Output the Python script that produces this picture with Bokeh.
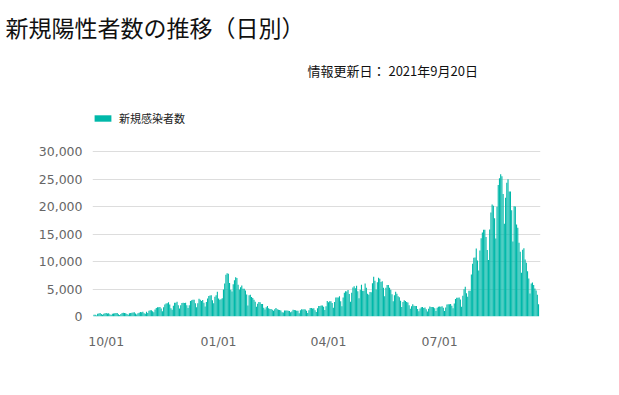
import pandas as pd
from bokeh.plotting import figure
from bokeh.models import (Range1d, FixedTicker, NumeralTickFormatter, DatetimeTickFormatter,
                          Label, Legend, LegendItem, ColumnDataSource)
from bokeh.embed import file_html
from bokeh.resources import INLINE

# Daily new cases, 2020-09-21 .. 2021-09-20
sep20 = [326, 298, 195, 479, 563, 647, 470, 297, 518, 606]
oct20 = [639, 563, 591, 406, 291, 495, 531, 611, 644, 626, 419, 278, 453, 622, 665, 622, 603, 445,
         335, 611, 618, 683, 706, 784, 550, 353, 577, 702, 805, 751, 854]
nov20 = [613, 485, 860, 644, 1046, 1138, 1154, 943, 781, 1279, 1543, 1660, 1704, 1735, 1439, 950,
         1694, 2201, 2386, 2427, 2596, 2168, 1520, 1228, 1940, 2501, 2508, 2684, 2068, 1436]
dec20 = [2030, 2433, 2510, 2444, 2508, 2029, 1537, 2023, 2810, 2973, 3041, 3031, 2387, 1680, 2431,
         3211, 3057, 2830, 2995, 2496, 1815, 2651, 3269, 3740, 3823, 3881, 2945, 2395, 3604, 3852, 4520]
jan21 = [3258, 3058, 3158, 3325, 4915, 6004, 7570, 7882, 7790, 6094, 4876, 4538, 5875, 6605, 7133,
         7014, 5759, 4925, 5320, 5654, 5044, 5043, 4717, 3990, 1994, 3853, 3964, 3538, 3347, 3052, 2673]
feb21 = [1783, 2324, 2631, 2576, 2288, 2279, 1607, 1252, 1693, 1889, 1487, 1353, 1359, 1222, 1040,
         1308, 1527, 1307, 1237, 1195, 1107, 758, 741, 1077, 1071, 1081, 1033, 993]
mar21 = [784, 929, 1237, 1171, 1149, 1065, 1064, 600, 1128, 1317, 1295, 1321, 1292, 1046, 637, 1139,
         1543, 1527, 1475, 1478, 1116, 816, 1519, 1914, 1906, 2008, 1988, 1779, 1181, 1859, 2840]
apr21 = [2609, 2772, 2774, 2469, 1571, 2645, 3449, 3450, 3452, 3697, 2775, 1881, 3455, 4311, 4573,
         4532, 4802, 4092, 2672, 4338, 5291, 5501, 5120, 5598, 4593, 3320, 4843, 5791, 4678, 4682]
may21 = [5979, 5230, 4119, 3967, 4435, 4390, 6054, 7244, 6487, 4908, 6244, 7058, 6883, 6275, 6419,
         5250, 3677, 5229, 5744, 5716, 5244, 4877, 4060, 2751, 3846, 4478, 4136, 3668, 3479, 2864, 1737]
jun21 = [2640, 2945, 2806, 2651, 2563, 2068, 1389, 1864, 2206, 1938, 1922, 1916, 1369, 935, 1454,
         1693, 1737, 1556, 1637, 1310, 915, 1418, 1830, 1749, 1706, 1695, 1488, 1000, 1581, 1777]
jul21 = [1823, 1766, 1874, 1595, 1003, 1643, 2188, 2241, 2244, 2278, 1956, 1497, 2380, 3190, 3417,
         3412, 3460, 3095, 1779, 3756, 4939, 5387, 4225, 3574, 4692, 4661, 7626, 9576, 10699, 10743, 12341]
aug21 = [10170, 8385, 12017, 14207, 15263, 15753, 15753, 14472, 12076, 10295, 15812, 18889, 20365,
         20151, 17867, 14191, 19955, 23917, 25156, 25876, 25492, 22284, 16844, 21570, 24316, 24951,
         22736, 22748, 19298, 13636, 20031]
sep21 = [20018, 16718, 16155, 13421, 11783, 7951, 12153, 12406, 10379, 9791, 8230, 6917, 4170, 6005,
         6190, 5707, 5105, 4726, 3941, 2223]

start_date = "2020-09-21"
x_tick_dates = ["2020-10-01", "2021-01-01", "2021-04-01", "2021-07-01"]
y_ticks = [0, 5000, 10000, 15000, 20000, 25000, 30000]
series_name = "新規感染者数"
title_text = "新規陽性者数の推移（日別）"
update_text = "情報更新日： 2021年9月20日"

cases = sep20 + oct20 + nov20 + dec20 + jan21 + feb21 + mar21 + apr21 + may21 + jun21 + jul21 + aug21 + sep21
dates = pd.date_range(start_date, periods=len(cases))
src = ColumnDataSource(dict(date=dates, cases=cases))

t0 = dates[0]
DAY_MS = 86400000

W, H = 615, 390
FL, FR, FT, FB = 92, 540, 48, 316   # frame edges on the canvas (frame reaches up under the title)
Y30K = 151                          # canvas row of the 30,000 grid line
y_top = 30000 * (FB - FT) / (FB - Y30K)

p = figure(width=W, height=H, x_axis_type="datetime",
           x_range=Range1d(t0 - pd.Timedelta(hours=1.23 * 24), t0 + pd.Timedelta(hours=365.6 * 24)),
           y_range=Range1d(0, y_top),
           output_backend="svg", toolbar_location=None, title=title_text,
           min_border_left=FL, min_border_right=W - FR, min_border_top=FT, min_border_bottom=H - FB)
p.outline_line_color = None
p.background_fill_color = "white"
p.border_fill_color = "white"

p.title.align = "left"
p.title.offset = 5 - FL
p.title.standoff = 10
p.title.vertical_align = "bottom"
p.title.text_font = "Noto Sans CJK JP"
p.title.text_font_size = "23px"
p.title.text_font_style = "normal"
p.title.text_color = "#111111"

r = p.vbar(x="date", top="cases", width=0.9 * DAY_MS, source=src,
           fill_color="#00b8a9", line_color=None)

# axes
p.xaxis.ticker = FixedTicker(ticks=[pd.Timestamp(d).value / 1e6 for d in x_tick_dates])
p.xaxis.formatter = DatetimeTickFormatter(days="%m/%d", months="%m/%d", years="%m/%d")
p.yaxis.ticker = FixedTicker(ticks=y_ticks)
p.yaxis.formatter = NumeralTickFormatter(format="0,0")
for ax in (p.xaxis[0], p.yaxis[0]):
    ax.axis_line_color = None
    ax.major_tick_line_color = None
    ax.minor_tick_line_color = None
    ax.major_tick_out = 0
    ax.major_tick_in = 0
    ax.major_label_text_font = "DejaVu Sans"
    ax.major_label_text_font_size = "12.5px"
    ax.major_label_text_color = "#666666"
p.yaxis.major_label_standoff = 10
p.xaxis.major_label_standoff = 17

p.xgrid.grid_line_color = None
p.ygrid.grid_line_color = "#dddddd"
p.ygrid.grid_line_width = 1

# update date (inside the frame area, canvas pixels)
p.add_layout(Label(x=307, y=70.3, x_units="canvas", y_units="canvas", text=update_text,
                   text_font="Noto Sans CJK JP", text_font_size="13px", text_color="#111111",
                   text_baseline="alphabetic", text_align="left"))

# series legend at the frame's top-left, above the 30,000 line
legend = Legend(items=[LegendItem(label=series_name, renderers=[r])], location=(0, FB - 126),
                orientation="horizontal", glyph_width=21, glyph_height=8, label_height=8,
                label_standoff=6, padding=0, spacing=0, margin=0,
                label_text_font="Noto Sans CJK JP", label_text_font_size="11px",
                label_text_color="#222222", border_line_color=None, background_fill_alpha=0)
p.add_layout(legend, "center")

open("out.html", "w").write(file_html(p, INLINE))
